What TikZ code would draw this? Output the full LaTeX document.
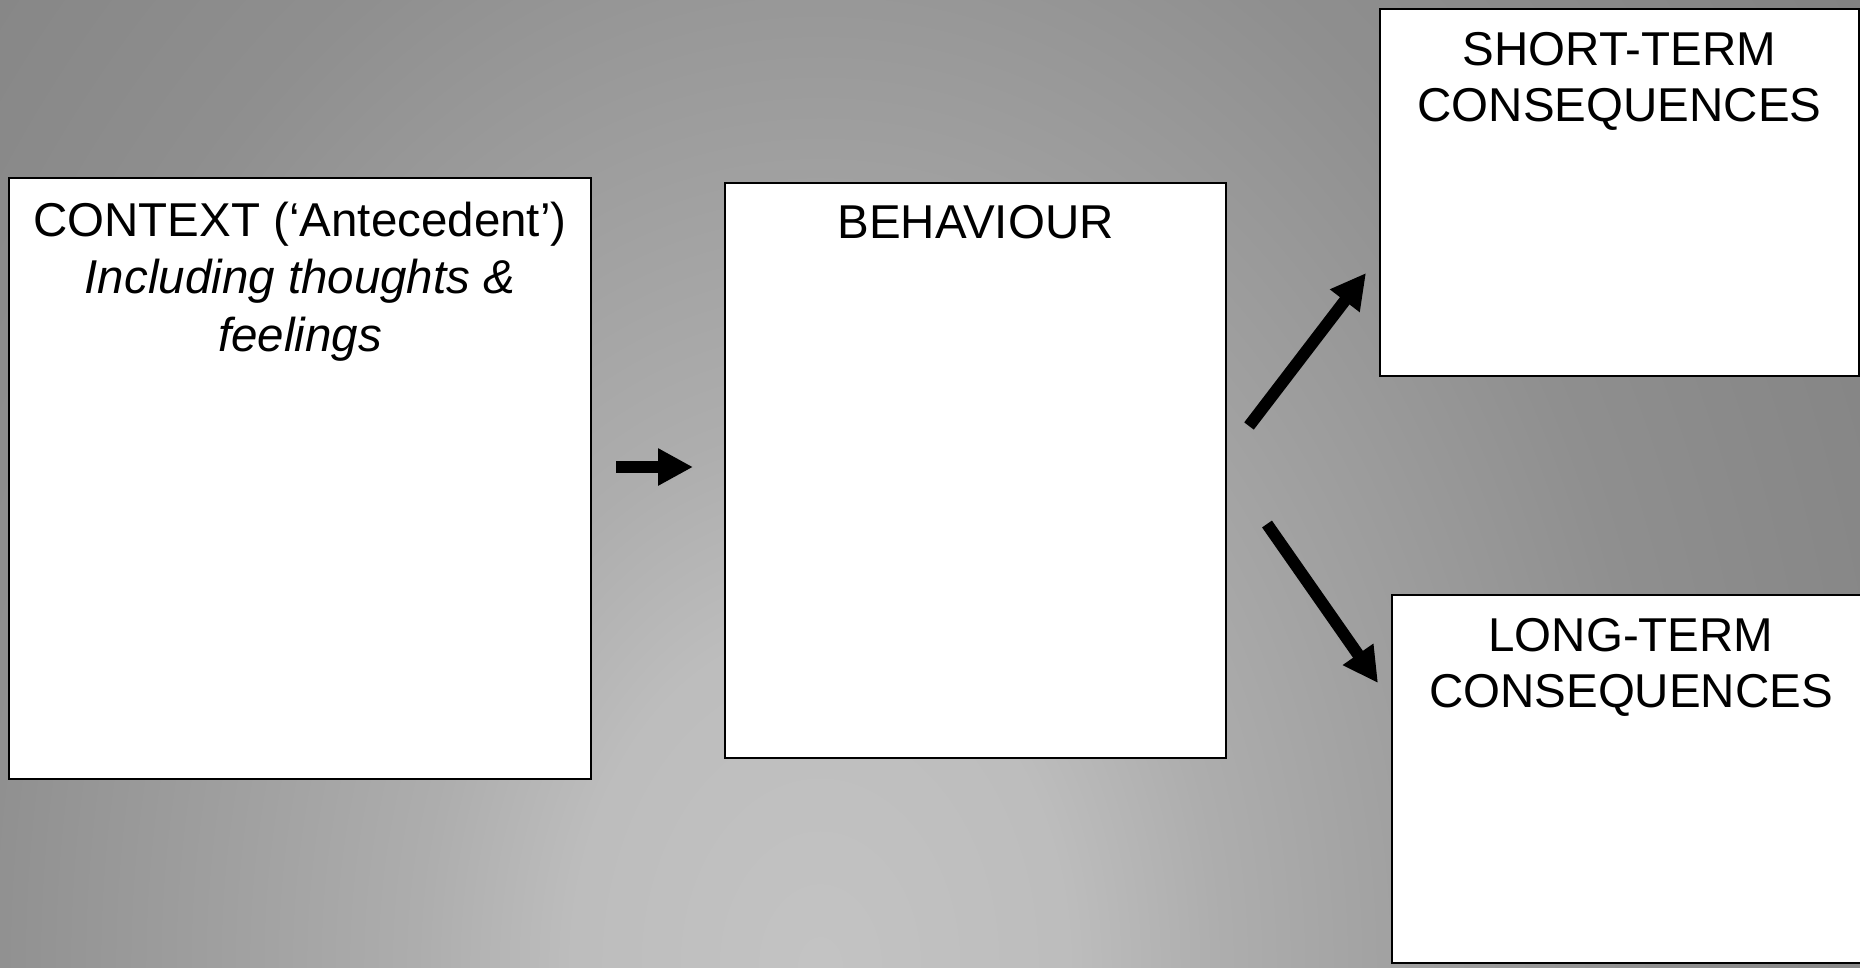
\documentclass[tikz,border=0pt]{standalone}
\usepackage{fontspec}
\setmainfont{Liberation Sans}
\usetikzlibrary{arrows.meta,calc}

% soft grey glow behind the boxes
\definecolor{glowA}{gray}{0.765}
\definecolor{glowB}{gray}{0.74}
\definecolor{glowC}{gray}{0.68}
\definecolor{glowD}{gray}{0.625}
\definecolor{glowE}{gray}{0.56}
\definecolor{glowF}{gray}{0.54}
\definecolor{glowG}{gray}{0.505}
% the shaded path's bounding box spans -25bp..25bp of the shading
\pgfdeclareradialshading{bgglow}{\pgfpointorigin}{%
  color(0bp)=(glowA); color(4.8bp)=(glowB); color(7.7bp)=(glowC);
  color(11.55bp)=(glowD); color(16.35bp)=(glowE); color(19.25bp)=(glowF);
  color(25bp)=(glowG); color(50bp)=(glowG)}

\tikzset{
  stagebox/.style={draw=black, line width=2pt, fill=white, rectangle,
    inner sep=0pt, outer sep=0pt},
  stagetext/.style={anchor=north, inner sep=0pt, align=center,
    font={\fontsize{47.5pt}{56pt}\selectfont}},
  bigarrow/.style={line width=12pt, black,
    -{Triangle[length=35pt,width=35pt]}}
}

\begin{document}
\begin{tikzpicture}[x=1pt, y=-1pt]
  \useasboundingbox (0,0) rectangle (1860,967);

  % background
  \begin{scope}
    \clip (0,0) rectangle (1860,967);
    \fill[glowG] (0,0) rectangle (1860,967);
    \shade[shading=bgglow] (820,967) ellipse [x radius=1300pt, y radius=1755pt];
  \end{scope}

  % the four stages
  \node[stagebox, minimum width=582pt, minimum height=601pt] (ctx) at (300,478.5) {};
  \node[stagebox, minimum width=501pt, minimum height=575pt] (beh) at (975.5,470.5) {};
  \node[stagebox, minimum width=479pt, minimum height=367pt] (st) at (1619.5,192.5) {};
  \node[stagebox, minimum width=478pt, minimum height=368pt] (lt) at (1631,779) {};

  % headings
  \node[stagetext, font={\fontsize{47.5pt}{57.5pt}\selectfont}] (ctxtext)
    at ($(ctx.north)+(0,23.5)$)
    {CONTEXT (‘Antecedent’)\\\textit{Including thoughts \&}\\\textit{feelings}};
  \node[stagetext] (behtext) at ($(beh.north)+(0,22.4)$) {BEHAVIOUR};
  \node[stagetext] (sttext) at ($(st.north)+(0,23)$) {SHORT-TERM\\CONSEQUENCES};
  \node[stagetext] (lttext) at ($(lt.north)+(0,23.4)$) {LONG-TERM\\CONSEQUENCES};

  % connectors
  \draw[bigarrow] ($(ctx.east)+(25,-11.5)$) -- ($(beh.west)+(-32,-3.5)$);
  \draw[bigarrow] ($(beh.east)+(23,-44.5)$) -- ($(st.south west)+(-14,-103)$);
  \draw[bigarrow] ($(beh.east)+(41,53.5)$) -- ($(lt.north west)+(-14,88)$);
\end{tikzpicture}
\end{document}
